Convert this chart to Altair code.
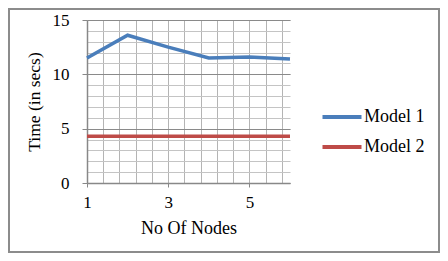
import altair as alt
import pandas as pd

nodes = [1, 2, 3, 4, 5, 6]
model1 = [11.5, 13.6, 12.5, 11.5, 11.6, 11.4]
model2 = [4.3, 4.3, 4.3, 4.3, 4.3, 4.3]
series = ["Model 1", "Model 2"]
colors = ["#4a7ebb", "#be4b48"]
x_ticks = [1, 3, 5]
y_ticks = [0, 5, 10, 15]
x_grid = [1, 1.4, 1.8, 2.2, 2.6, 3, 3.4, 3.8, 4.2, 4.6, 5, 5.4, 5.8]
y_grid = list(range(0, 16))

df = pd.DataFrame({
    "nodes": nodes * 2,
    "time": model1 + model2,
    "series": [series[0]] * len(nodes) + [series[1]] * len(nodes),
})

FONT = "'Liberation Serif', 'Times New Roman', Times, serif"
W, H = 203, 163
PL, PT, PR, PB = 79, 12, 150, 70

xscale = alt.Scale(domain=[1, 6], nice=False, zero=False)
yscale = alt.Scale(domain=[0, 15], nice=False)

grid = alt.Chart(df).mark_line(strokeOpacity=0).encode(
    x=alt.X("nodes:Q", scale=xscale,
            axis=alt.Axis(values=x_grid, orient="bottom", labels=False, ticks=False,
                          domain=False, grid=True, gridColor="#b4b4b4", gridWidth=1, title="")),
    y=alt.Y("time:Q", scale=yscale,
            axis=alt.Axis(values=y_grid, orient="left", labels=False, ticks=False,
                          domain=False, grid=True, gridColor="#c4c4c4", gridWidth=1, title="")),
    detail="series:N",
)

lines = alt.Chart(df).mark_line(strokeWidth=3.5).encode(
    x=alt.X("nodes:Q", scale=xscale,
            axis=alt.Axis(values=x_ticks, orient="bottom", grid=False, title="No Of Nodes",
                          tickSize=4, labelPadding=7, titlePadding=9, labelFlush=False,
                          titleFontSize=18)),
    y=alt.Y("time:Q", scale=yscale,
            axis=alt.Axis(values=y_ticks, orient="left", grid=True, gridColor="#8a8a8a",
                          gridWidth=1, title="Time (in secs)", tickSize=5, labelPadding=13,
                          titlePadding=9, titleFontSize=17.5)),
    color=alt.Color("series:N", scale=alt.Scale(domain=series, range=colors),
                    legend=alt.Legend(title="", orient="none", legendX=246, legendY=88,
                                      symbolType="M-3,0H3", symbolSize=169,
                                      symbolStrokeWidth=4, labelOffset=13, rowPadding=12,
                                      labelFont=FONT, labelFontSize=18, labelColor="#000")),
)

frame = alt.Chart(alt.Data(values=[{"a": 1}])).mark_rect(
    fill="transparent", stroke="#8c8c8c", strokeWidth=2
).encode(
    x=alt.value(-PL + 1), x2=alt.value(W + PR - 1),
    y=alt.value(-PT + 1), y2=alt.value(H + PB - 1),
)

chart = alt.layer(grid, lines, frame).resolve_axis(
    x="independent", y="independent"
).properties(
    width=W, height=H,
    autosize=alt.AutoSizeParams(type="none"),
    padding={"left": PL, "top": PT, "right": PR, "bottom": PB},
    background="white",
).configure_view(stroke="transparent").configure_axis(
    labelFont=FONT, titleFont=FONT, labelFontSize=17, titleFontSize=17,
    titleFontWeight="normal", labelColor="#000", titleColor="#000",
    domainColor="#888888", tickColor="#888888", domainWidth=1.5,
).configure_legend(labelFont=FONT)

chart.save("out.html", embed_options={"renderer": "svg", "actions": False})
